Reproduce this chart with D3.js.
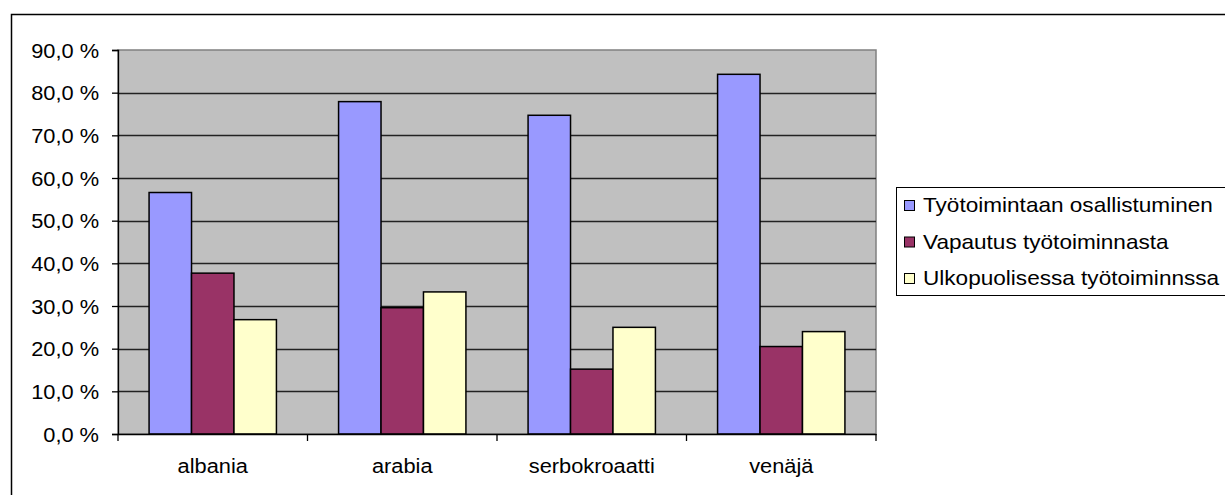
<!DOCTYPE html>
<html>
<head>
<meta charset="utf-8">
<script src="https://cdn.jsdelivr.net/npm/d3@7"></script>
<style>
  html, body { margin: 0; padding: 0; background: #ffffff; }
  svg { display: block; }
  text { font-family: "Liberation Sans", Arial, sans-serif; fill: #000; }
</style>
</head>
<body>
<svg id="chart" width="1225" height="495"></svg>
<script>
// Kielet (x-akseli)
const categories = ["albania", "arabia", "serbokroaatti", "venäjä"];
// Sarjat
const seriesNames = [
  "Työtoimintaan osallistuminen",
  "Vapautus työtoiminnasta",
  "Ulkopuolisessa työtoiminnssa"
];
const osallistuminen = [56.6, 77.9, 74.7, 84.3];
const vapautus = [37.7, 29.6, 15.2, 20.5];
const ulkopuolinen = [26.8, 33.3, 25.0, 24.0];
// Y-akselin jaot
const yTicks = [0, 10, 20, 30, 40, 50, 60, 70, 80, 90];
const seriesColors = ["#9999FF", "#993366", "#FFFFCC"];

const seriesValues = [osallistuminen, vapautus, ulkopuolinen];

const svg = d3.select("#chart");
const W = 1225, H = 495;

// Tekstit piirretään hieman leveämpinä (vaakasuuntainen venytys)
function widen(sel, factor) {
  sel.each(function () {
    const len = this.getComputedTextLength();
    d3.select(this)
      .attr("textLength", len * factor)
      .attr("lengthAdjust", "spacingAndGlyphs");
  });
}

// Kaavion kehys (jatkuu oikean ja alareunan yli)
svg.append("rect")
  .attr("x", 11.5).attr("y", 14.5)
  .attr("width", W).attr("height", H)
  .attr("fill", "#ffffff")
  .attr("stroke", "#000").attr("stroke-width", 1.5);

const plot = { left: 118, right: 876, top: 50, bottom: 434 };

const y = d3.scaleLinear().domain([0, 90]).range([plot.bottom, plot.top]);
const x0 = d3.scaleBand().domain(categories).range([plot.left, plot.right]).paddingInner(0).paddingOuter(0);
const bw = x0.bandwidth();
const x1 = d3.scaleBand().domain(d3.range(seriesNames.length))
  .range([bw * 0.164, bw * 0.836]).padding(0);

// Piirtoalueen tausta
svg.append("rect")
  .attr("x", plot.left).attr("y", plot.top)
  .attr("width", plot.right - plot.left).attr("height", plot.bottom - plot.top)
  .attr("fill", "#C0C0C0")
  .attr("stroke", "#808080").attr("stroke-width", 1.5);

// Vaakaviivat
svg.append("g").selectAll("line")
  .data(yTicks.filter(t => t > 0 && t < 90))
  .join("line")
  .attr("x1", plot.left).attr("x2", plot.right)
  .attr("y1", d => Math.round(y(d)) + 0.5).attr("y2", d => Math.round(y(d)) + 0.5)
  .attr("stroke", "#222").attr("stroke-width", 1.4);

// Pylväät
const groups = svg.append("g").selectAll("g")
  .data(categories)
  .join("g")
  .attr("transform", d => `translate(${x0(d)},0)`);

groups.selectAll("rect")
  .data((d, i) => seriesValues.map((vals, s) => ({ s, v: vals[i] })))
  .join("rect")
  .attr("x", d => x1(d.s))
  .attr("width", x1.bandwidth())
  .attr("y", d => y(d.v))
  .attr("height", d => y(0) - y(d.v))
  .attr("fill", d => seriesColors[d.s])
  .attr("stroke", "#000").attr("stroke-width", 1.5);

// Y-akseli
const yAxis = d3.axisLeft(y)
  .tickValues(yTicks)
  .tickSize(6)
  .tickPadding(13)
  .tickFormat(d => d3.format(".1f")(d).replace(".", ",") + " %");

const gy = svg.append("g")
  .attr("transform", `translate(${plot.left},0)`)
  .call(yAxis);
gy.select(".domain").attr("stroke", "#000").attr("stroke-width", 1.3);
gy.selectAll(".tick line").attr("stroke", "#000").attr("stroke-width", 1.3);
gy.selectAll(".tick text")
  .style("font-size", "20px")
  .attr("dy", "0.35em")
  .call(widen, 1.09);

// X-akseli
const xAxis = d3.axisBottom(x0).tickSize(0).tickPadding(25);
const gx = svg.append("g")
  .attr("transform", `translate(0,${plot.bottom})`)
  .call(xAxis);
gx.select(".domain").attr("stroke", "#000").attr("stroke-width", 1.3);
gx.selectAll(".tick text")
  .style("font-size", "20px")
  .attr("dy", "0.71em")
  .call(widen, 1.09);

// Luokkien väliset jakoviivat
svg.append("g").selectAll("line")
  .data(categories.map(c => x0(c)).concat([plot.right]))
  .join("line")
  .attr("x1", d => d).attr("x2", d => d)
  .attr("y1", plot.bottom).attr("y2", plot.bottom + 7)
  .attr("stroke", "#000").attr("stroke-width", 1.3);

// Selite
const legend = svg.append("g");
legend.append("rect")
  .attr("x", 896.5).attr("y", 187.5)
  .attr("width", 340).attr("height", 108)
  .attr("fill", "#ffffff")
  .attr("stroke", "#000").attr("stroke-width", 1);

const rowY = [205, 241.5, 278];
const items = legend.selectAll("g.item")
  .data(seriesNames)
  .join("g")
  .attr("class", "item")
  .attr("transform", (d, i) => `translate(904,${rowY[i]})`);
items.append("rect")
  .attr("x", 0.5).attr("y", -4.5)
  .attr("width", 10).attr("height", 10)
  .attr("fill", (d, i) => seriesColors[i])
  .attr("stroke", "#000").attr("stroke-width", 1);
items.append("text")
  .attr("x", 19).attr("y", 0)
  .attr("dy", "0.35em")
  .style("font-size", "21px")
  .text(d => d)
  .call(widen, 1.075);
</script>
</body>
</html>
